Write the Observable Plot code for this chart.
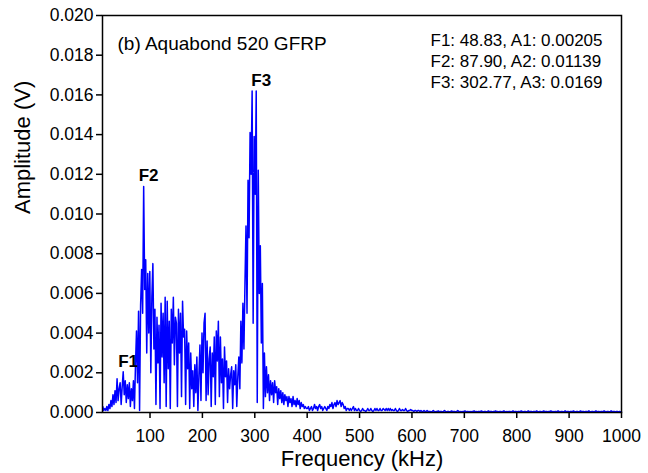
<!DOCTYPE html>
<html>
<head>
<meta charset="utf-8">
<script src="https://cdn.jsdelivr.net/npm/d3@7"></script>
<script src="https://cdn.jsdelivr.net/npm/@observablehq/plot@0.6"></script>
<style>
  html, body { margin: 0; padding: 0; background: #fff; }
  #chart { width: 648px; height: 473px; }
</style>
</head>
<body>
<div id="chart"></div>
<script>
// FFT bins: start frequency and bin step (kHz) — every second bin
const binStart = 9.765625;
const binStep = 1.953125;

// Amplitude (V), 9.8 – 203 kHz
const ampLow = [
  0.0003,0.0001,0.0002,0.0001,0.0003,0.0001,0.0004,0.0002,0.0006,0.0003,
  0.0009,0.0004,0.0011,0.0005,0.0017,0.0006,0.0012,0.0015,0.0004,0.0013,
  0.00205,0.0009,0.0016,0.0005,0.0014,0.0007,0.0015,0.0003,0.0012,0.0006,
  0.0016,0.0002,0.0024,0.0041,0.0015,0.0051,0.0001,0.0054,0.0072,0.0050,
  0.01139,0.0062,0.0077,0.0030,0.0070,0.0040,0.0071,0.0020,0.0058,0.0075,
  0.0032,0.0052,0.0004,0.0048,0.0025,0.0044,0.0002,0.0055,0.0028,0.0050,
  0.0015,0.0058,0.0003,0.0056,0.0022,0.0046,0.0002,0.0052,0.0035,0.0058,
  0.0024,0.0048,0.0045,0.0003,0.0052,0.0030,0.0050,0.0008,0.0056,0.0038,
  0.0042,0.0004,0.0041,0.0022,0.0035,0.0002,0.0030,0.0012,0.0021,0.0003,
  0.0024,0.0010,0.0028,0.0001,0.0019,0.0034,0.0006,0.0040,0.0020,0.0045
];
// Amplitude (V), 205 – 398 kHz
const ampMid = [
  0.0050,0.0006,0.0036,0.0009,0.0027,0.0033,0.0003,0.0030,0.0018,0.0038,
  0.0004,0.0041,0.0026,0.0046,0.0008,0.0038,0.0015,0.0027,0.0002,0.0033,
  0.0018,0.0026,0.0005,0.0022,0.0012,0.0019,0.0023,0.0002,0.0021,0.0014,
  0.0024,0.0003,0.0018,0.0028,0.0012,0.0046,0.0025,0.0055,0.0032,0.0065,
  0.0094,0.0050,0.0117,0.0088,0.0141,0.0120,0.0162,0.0045,0.0139,0.0110,
  0.0162,0.0005,0.0122,0.0060,0.0084,0.0035,0.0065,0.0002,0.0030,0.0008,
  0.0023,0.0010,0.0019,0.0006,0.0016,0.0009,0.0015,0.0005,0.0016,0.0010,
  0.0013,0.0004,0.0012,0.0007,0.0011,0.0005,0.0010,0.0004,0.0009,0.0006,
  0.0008,0.0003,0.0008,0.0005,0.0007,0.0003,0.0008,0.0004,0.0006,0.0003,
  0.0007,0.0004,0.0006,0.0002,0.0005,0.0003,0.0004,0.0002,0.0003,0.0002
];
// Amplitude (V), 400 – 633 kHz
const ampHigh = [
  0.0002,0.0003,0.0001,0.0002,0.0003,0.0001,0.0002,0.0004,0.0002,0.0003,
  0.0001,0.0003,0.0004,0.0002,0.0003,0.0001,0.0002,0.0003,0.0002,0.0001,
  0.0003,0.0002,0.0004,0.0003,0.0005,0.0002,0.0004,0.0005,0.0003,0.0006,
  0.0004,0.0005,0.0006,0.0003,0.0005,0.0004,0.0002,0.0003,0.0001,0.0002,
  0.0002,0.0001,0.0002,0.0001,0.0002,0.0003,0.0001,0.0002,0.0001,0.0001,
  0.0002,0.0001,0.00005,0.0001,0.0002,0.0001,0.0001,0.00005,0.0001,0.0002,
  0.0001,0.0001,0.0002,0.0001,0.00005,0.0001,0.0002,0.0001,0.0002,0.0001,
  0.0001,0.0002,0.0001,0.0001,0.0002,0.00015,0.0001,0.0002,0.0001,0.0002,
  0.0001,0.0002,0.0001,0.00015,0.0001,0.0001,0.0002,0.0001,0.00005,0.0001,
  0.0002,0.0001,0.0001,0.00015,0.0001,0.0001,0.0002,0.0001,0.00005,0.0001,
  0.0001,0.00015,0.0001,0.0001,0.00005,0.0001,0.0001,0.00005,0.0001,0.0001,
  0.00005,0.0001,0.00005,0.00005,0.0001,0.00005,0.00005,0.0001,0.00005,0.00005
];
// Amplitude (V), 635 – 1000 kHz
const ampTail = [
  0.00005,0.00003,0.00005,0.0001,0.00005,0.00003,0.00005,0.00005,0.00008,0.00003,
  0.00005,0.00005,0.00003,0.00005,0.0001,0.00005,0.00003,0.00005,0.00005,0.00003,
  0.00005,0.00008,0.00003,0.00005,0.00005,0.00003,0.00005,0.0001,0.00005,0.00003,
  0.00005,0.00003,0.00005,0.00005,0.00008,0.00003,0.00005,0.00005,0.00003,0.00005,
  0.00003,0.00005,0.00005,0.00008,0.00003,0.00005,0.00003,0.00005,0.00005,0.00003,
  0.00008,0.00005,0.00003,0.00005,0.00005,0.00003,0.00005,0.00008,0.00003,0.00005,
  0.00005,0.00003,0.00005,0.00005,0.00008,0.00003,0.00005,0.00003,0.00005,0.00005,
  0.00003,0.00005,0.00008,0.00005,0.00003,0.00005,0.00003,0.00005,0.00005,0.00003,
  0.00005,0.00008,0.00003,0.00005,0.00005,0.00003,0.00005,0.00005,0.00003,0.00008,
  0.00005,0.00003,0.00005,0.00005,0.00003,0.00005,0.00008,0.00003,0.00005,0.00005,
  0.00003,0.00005,0.00005,0.00003,0.00008,0.00005,0.00003,0.00005,0.00005,0.00003,
  0.00005,0.00008,0.00003,0.00005,0.00005,0.00003,0.00005,0.00005,0.00008,0.00003,
  0.00005,0.00003,0.00005,0.00005,0.00003,0.00008,0.00005,0.00003,0.00005,0.00005,
  0.00003,0.00005,0.00008,0.00003,0.00005,0.00005,0.00003,0.00005,0.00005,0.00003,
  0.00008,0.00005,0.00003,0.00005,0.00005,0.00003,0.00005,0.00008,0.00003,0.00005,
  0.00005,0.00003,0.00005,0.00005,0.00003,0.00008,0.00005,0.00003,0.00005,0.00005,
  0.00003,0.00005,0.00008,0.00003,0.00005,0.00005,0.00003,0.00005,0.00005,0.00003,
  0.00008,0.00005,0.00003,0.00005,0.00005,0.00003,0.00005,0.00008,0.00003,0.00005,
  0.00005,0.00003,0.00005,0.00005,0.00003,0.00005,0.00003,0.00005
];

// Peak annotations
const peakNames = ["F1", "F2", "F3"];
const peakFreqs = [48.83, 87.90, 302.77];
const peakAmps = [0.00205, 0.01139, 0.0169];

// Axis ticks and texts
const xTicks = [100, 200, 300, 400, 500, 600, 700, 800, 900, 1000];
const yTicks = [0, 0.002, 0.004, 0.006, 0.008, 0.010, 0.012, 0.014, 0.016, 0.018, 0.020];
const xDomain = [9.3, 1000];
const yDomain = [0, 0.02];
const chartTitle = "(b) Aquabond 520 GFRP";
const xLabel = "Frequency (kHz)";
const yLabel = "Amplitude (V)";

// ---- build table ----
const amps = [...ampLow, ...ampMid, ...ampHigh, ...ampTail];
const spectrum = amps.map((a, i) => ({f: binStart + i * binStep, a}));

const peaks = peakNames.map((name, k) => {
  const near = spectrum.filter(d => Math.abs(d.f - peakFreqs[k]) <= 3);
  return {name, f: peakFreqs[k], a: d3.max(near, d => d.a)};
});
const annoText = peakNames.map((n, k) =>
  `F${k + 1}: ${peakFreqs[k].toFixed(2)}, A${k + 1}: ${peakAmps[k]}`).join("\n");

const font = "'Liberation Sans', Arial, Helvetica, sans-serif";

const chart = Plot.plot({
  width: 648,
  height: 473,
  marginLeft: 102,
  marginRight: 27,
  marginTop: 15,
  marginBottom: 61,
  style: {fontFamily: font, fontSize: "17px", background: "#fff", color: "#000", overflow: "visible"},
  x: {domain: xDomain},
  y: {domain: yDomain},
  marks: [
    Plot.lineY(spectrum, {x: "f", y: "a", stroke: "#0000ff", strokeWidth: 1.5}),
    Plot.frame({stroke: "#000", strokeWidth: 1.5}),
    Plot.axisX({ticks: xTicks, tickSize: 6, tickPadding: 11, strokeWidth: 1.5, fontSize: 17.5, label: null, tickFormat: d => String(d)}),
    Plot.axisY({ticks: yTicks, tickSize: 6, tickPadding: 3, strokeWidth: 1.5, fontSize: 17.5, label: null, tickFormat: d3.format(".3f")}),
    Plot.text([xLabel], {text: d => d, frameAnchor: "bottom", dy: 53, fontSize: 22}),
    Plot.text([yLabel], {text: d => d, frameAnchor: "left", dx: -80, rotate: -90, fontSize: 22}),
    Plot.text([chartTitle], {text: d => d, frameAnchor: "top-left", dx: 15, dy: 21, textAnchor: "start", fontSize: 19}),
    Plot.text([annoText], {text: d => d, frameAnchor: "top-left", dx: 328, dy: 16, textAnchor: "start", lineAnchor: "top", lineHeight: 1.22, fontSize: 17}),
    Plot.text(peaks, {x: "f", y: "a", text: "name", textAnchor: "start", lineAnchor: "bottom", dx: -5, dy: -5, fontSize: 17, fontWeight: "bold"})
  ]
});
document.getElementById("chart").appendChild(chart);
</script>
</body>
</html>
